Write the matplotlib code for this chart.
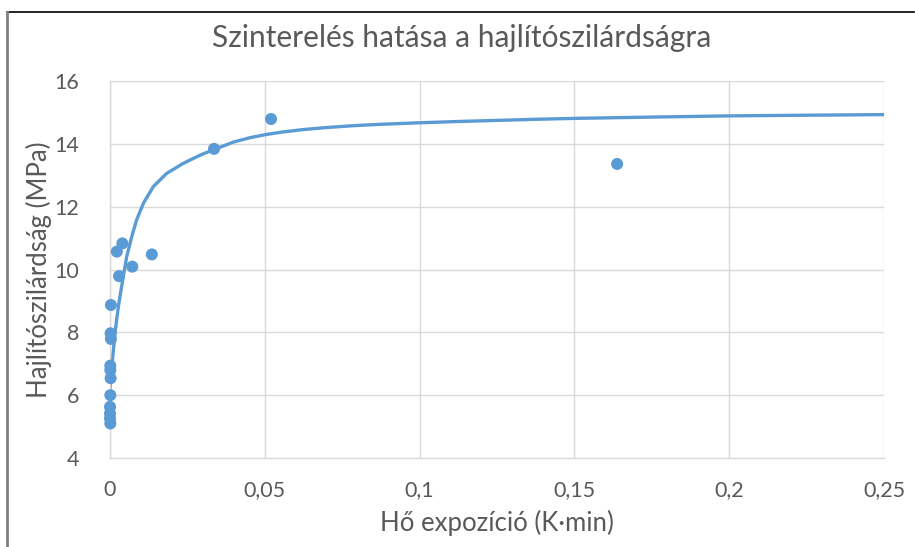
import matplotlib
matplotlib.use("Agg")
import matplotlib.pyplot as plt
from matplotlib.ticker import FuncFormatter
from matplotlib.lines import Line2D

plt.rcParams['font.family'] = ['Lato', 'DejaVu Sans']

# Measured points
exposure = [0.0022, 0.0040, 0.0135, 0.0072, 0.0029, 0.0003, 0.0002, 0.0003,
            0.0001, 0.0001, 0.0002, 0.0001, 0.0000, 0.0000, 0.0000, 0.0001,
            0.0336, 0.0520, 0.1638]
strength = [10.57, 10.83, 10.48, 10.09, 9.79, 8.87, 7.97, 7.79,
            6.94, 6.80, 6.54, 6.00, 5.63, 5.42, 5.26, 5.10,
            13.84, 14.79, 13.36]

# Trend line
trend_x = [0.0000, 0.0002, 0.0009, 0.0016, 0.0027, 0.0041, 0.0054, 0.0070,
           0.0086, 0.0108, 0.0140, 0.0183, 0.0237, 0.0291, 0.0339, 0.0400,
           0.0450, 0.0500, 0.0560, 0.0620, 0.0700, 0.0790, 0.0870, 0.1000,
           0.1120, 0.1230, 0.1370, 0.1500, 0.1620, 0.1740, 0.1870, 0.2000,
           0.2120, 0.2240, 0.2370, 0.2500]
trend_y = [6.20, 6.48, 7.23, 7.97, 8.82, 9.67, 10.41, 11.04,
           11.58, 12.11, 12.64, 13.06, 13.38, 13.64, 13.83, 14.06,
           14.19, 14.29, 14.38, 14.45, 14.52, 14.58, 14.62, 14.67,
           14.71, 14.74, 14.78, 14.81, 14.83, 14.85, 14.87, 14.89,
           14.90, 14.91, 14.92, 14.93]

x_ticks = [0, 0.05, 0.1, 0.15, 0.2, 0.25]
y_ticks = [4, 6, 8, 10, 12, 14, 16]

title = "Szinterelés hatása a hajlítószilárdságra"
xlabel = "Hő expozíció (K·min)"
ylabel = "Hajlítószilárdság (MPa)"

blue = "#5B9BD5"
grey_txt = "#595959"
grid_c = "#D9D9D9"

fig = plt.figure(figsize=(9.15, 5.47), dpi=100)
ax = fig.add_axes([110/915, 1-458/547, (884-110)/915, (458-81)/547])

ax.plot(trend_x, trend_y, color=blue, lw=2.4, solid_capstyle='round',
        solid_joinstyle='round', zorder=2)
ax.scatter(exposure, strength, s=75, color=blue, edgecolors='none', zorder=3,
           clip_on=False)

ax.set_xlim(0, 0.25)
ax.set_ylim(4, 16)
ax.set_xticks(x_ticks)
ax.set_yticks(y_ticks)

def comma(v, pos):
    s = ('%g' % v)
    return s.replace('.', ',')
ax.xaxis.set_major_formatter(FuncFormatter(comma))
ax.yaxis.set_major_formatter(FuncFormatter(comma))

ax.grid(True, color=grid_c, lw=1.0, zorder=0)
ax.set_axisbelow(True)
for side in ['top', 'right']:
    ax.spines[side].set_visible(False)
for side in ['left', 'bottom']:
    ax.spines[side].set_color(grid_c)
    ax.spines[side].set_linewidth(1.0)
ax.tick_params(axis='x', length=0, labelsize=15.5, colors=grey_txt, pad=16)
ax.tick_params(axis='y', length=0, labelsize=15.5, colors=grey_txt, pad=22)

ax.set_xlabel(xlabel, fontsize=18.5, color=grey_txt, labelpad=7)
ax.set_ylabel(ylabel, fontsize=18.5, color=grey_txt, labelpad=2)
fig.text(462/915, 1-38/547, title, ha='center', va='center', fontsize=21.5,
         color=grey_txt)

# outer frame fragments
fig.add_artist(Line2D([7/915, 914/915], [1-12/547, 1-12/547],
                      transform=fig.transFigure, color='black', lw=1.2))
fig.add_artist(Line2D([7/915, 7/915], [0, 1-12/547],
                      transform=fig.transFigure, color='#808080', lw=2.0))

fig.savefig("out.png", dpi=100)
